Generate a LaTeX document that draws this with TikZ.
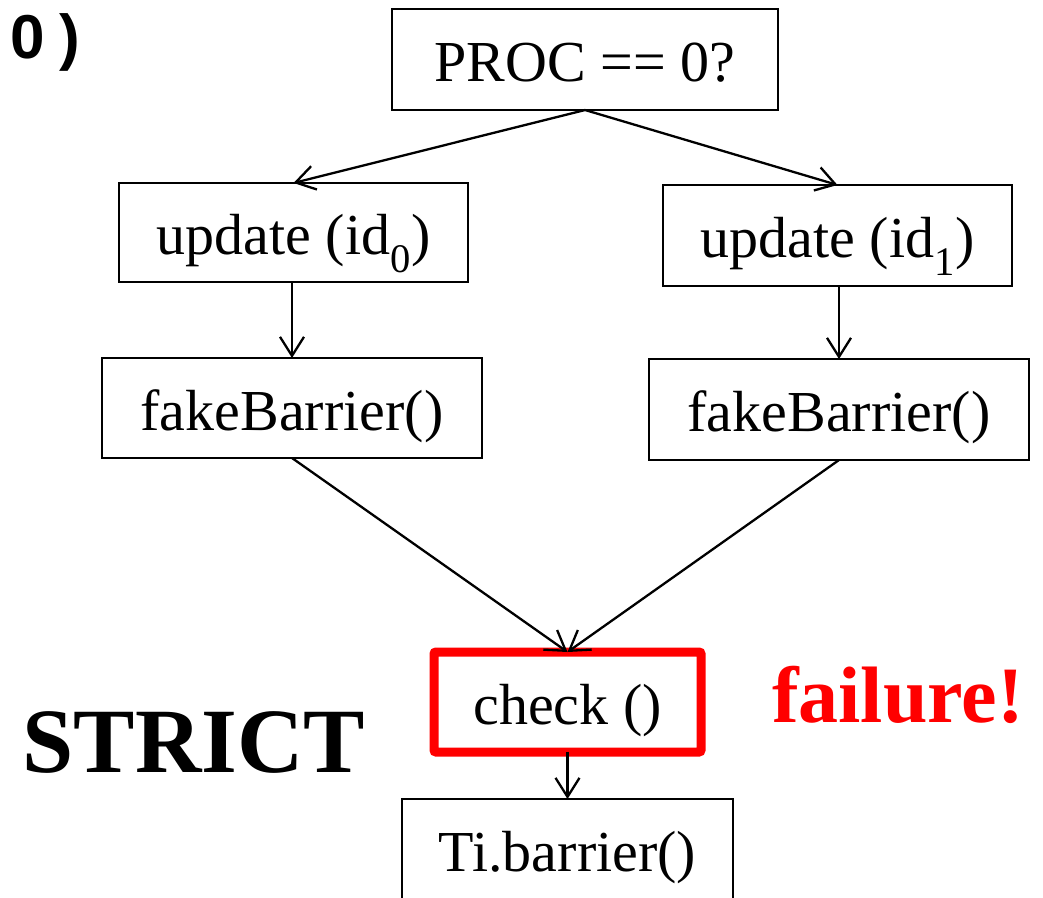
\documentclass[tikz,border=0pt]{standalone}
\usepackage{fontspec}
\setmainfont{Liberation Serif}
\newfontfamily\lblfont{Liberation Sans}
\usetikzlibrary{arrows.meta}
\begin{document}
\begin{tikzpicture}[x=1pt,y=-1pt,
  box/.style={draw=black,line width=2.2pt,inner sep=0pt,outer sep=0pt,
    font=\fontsize{58}{60}\selectfont,text height=44pt,text depth=0pt},
  redbox/.style={box,draw=red,line width=9pt,rounded corners=2pt},
  arr/.style={line width=2.3pt,-{Straight Barb[length=19pt,width=24pt,line width=2.3pt]}}]
\useasboundingbox (0,0) rectangle (1043,897);
\node[box,minimum width=386pt,minimum height=101pt] (proc) at (585,59.5) {PROC == 0?};
\node[box,minimum width=349pt,minimum height=99pt] (u0) at (293.5,232.5) {update (id\textsubscript{0})};
\node[box,minimum width=349pt,minimum height=101pt] (u1) at (837.5,235.5) {update (id\textsubscript{1})};
\node[box,minimum width=380pt,minimum height=100pt] (f0) at (292,408) {fakeBarrier()};
\node[box,minimum width=380pt,minimum height=101pt] (f1) at (839,409.5) {fakeBarrier()};
\node[redbox,minimum width=267pt,minimum height=100pt] (chk) at (567.5,702) {check ()};
\node[box,minimum width=331pt,minimum height=100pt] (ti) at (567.5,849) {Ti.barrier()};
\node[anchor=base,font=\fontsize{92}{92}\selectfont\bfseries,inner sep=0pt] (strict) at (194,772) {STRICT};
\node[anchor=base,font=\fontsize{80}{80}\selectfont\bfseries,text=red,inner sep=0pt] (fail) at (898,722) {failure!};
\node[anchor=base west,font=\fontsize{62}{62}\selectfont\lblfont\bfseries,inner sep=0pt] (lbl) at (10,58) {0\kern15pt)};
\draw[arr] (proc.south) -- (u0.north);
\draw[arr] (proc.south) -- (u1.north);
\draw[arr] (u0.south -| f0.north) -- (f0.north);
\draw[arr] (u1.south -| f1.north) -- (f1.north);
\draw[arr] (f0.south) -- (chk.north);
\draw[arr] (f1.south) -- (chk.north);
\draw[arr] (chk.south) -- (ti.north);
\end{tikzpicture}
\end{document}
